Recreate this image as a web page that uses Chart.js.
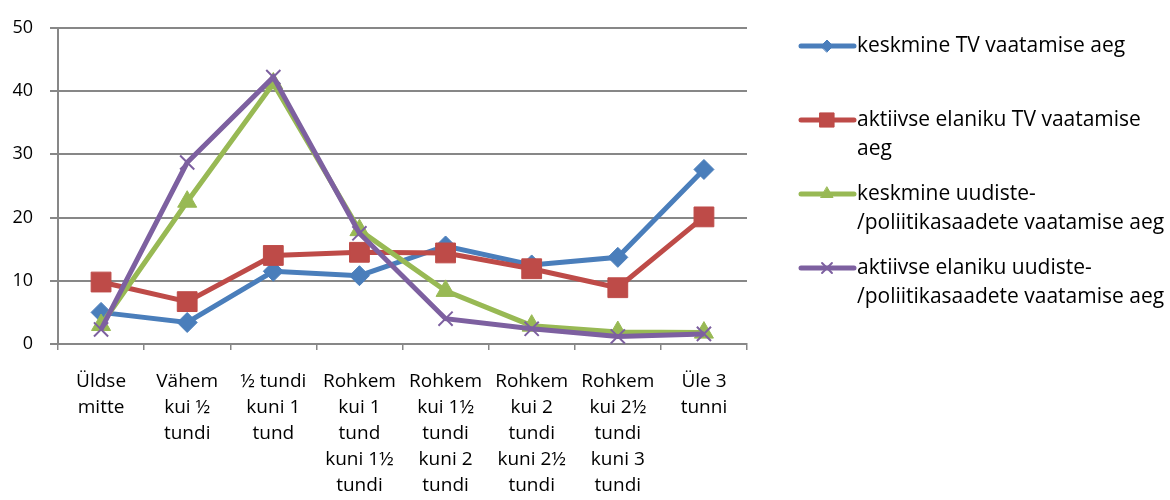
<!DOCTYPE html>
<html>
<head>
<meta charset="utf-8">
<script src="https://cdn.jsdelivr.net/npm/chart.js@4.4.1/dist/chart.umd.min.js"></script>
<style>
  html, body { margin: 0; padding: 0; background: #fff; }
  #wrap { width: 1170px; height: 500px; }
</style>
</head>
<body>
<div id="wrap"><canvas id="tvChart" width="1170" height="500"></canvas></div>
<script>
const categories = [
  ['Üldse', 'mitte'],
  ['Vähem', 'kui ½', 'tundi'],
  ['½ tundi', 'kuni 1', 'tund'],
  ['Rohkem', 'kui 1', 'tund', 'kuni 1½', 'tundi'],
  ['Rohkem', 'kui 1½', 'tundi', 'kuni 2', 'tundi'],
  ['Rohkem', 'kui 2', 'tundi', 'kuni 2½', 'tundi'],
  ['Rohkem', 'kui 2½', 'tundi', 'kuni 3', 'tundi'],
  ['Üle 3', 'tunni']
];
const seriesNames = [
  'keskmine TV vaatamise aeg',
  'aktiivse elaniku TV vaatamise aeg',
  'keskmine uudiste-/poliitikasaadete vaatamise aeg',
  'aktiivse elaniku uudiste-/poliitikasaadete vaatamise aeg'
];
const avgTv = [5.0, 3.4, 11.5, 10.8, 15.5, 12.5, 13.7, 27.6];
const activeTv = [9.8, 6.7, 14.0, 14.5, 14.4, 11.9, 8.9, 20.1];
const avgNews = [3.0, 22.5, 41.2, 18.0, 8.4, 2.9, 1.9, 1.8];
const activeNews = [2.3, 28.7, 42.2, 17.5, 4.0, 2.4, 1.2, 1.6];

const FONT = 'Open Sans';
const gridColor = '#878787';

const styles = [
  { color: '#4a7ebb', point: 'rectRot', r: 10, lr: 6, bw: 1 },
  { color: '#be4b48', point: 'rect', r: 14, lr: 10, bw: 1 },
  { color: '#98b954', point: 'triangle', r: 11, lr: 7, bw: 1 },
  { color: '#7d60a0', point: 'crossRot', r: 10, lr: 7, bw: 2 }
];
const values = [avgTv, activeTv, avgNews, activeNews];

// legend drawn on the canvas so the long names wrap like the original
const sideLegend = {
  id: 'sideLegend',
  afterDraw(chart) {
    const ctx = chart.ctx;
    ctx.save();
    ctx.font = '21px "' + FONT + '"';
    ctx.textBaseline = 'middle';
    const maxW = 314;
    let y = 46;
    chart.data.datasets.forEach((ds, i) => {
      const st = styles[i];
      ctx.strokeStyle = st.color;
      ctx.lineWidth = 5;
      ctx.lineCap = 'round';
      ctx.beginPath();
      ctx.moveTo(801, y);
      ctx.lineTo(854, y);
      ctx.stroke();
      ctx.fillStyle = st.color;
      ctx.lineWidth = st.bw;
      Chart.helpers.drawPoint(ctx, { pointStyle: st.point, radius: st.lr, rotation: 0, borderWidth: st.bw }, 827, y);
      // wrap words (break after hyphen too)
      const words = ds.label.replace(/-\//g, '- /').split(' ');
      const lines = [];
      let cur = '';
      words.forEach(w => {
        const sep = cur === '' || cur.endsWith('-') ? '' : ' ';
        const test = cur + sep + w;
        if (cur !== '' && ctx.measureText(test).width > maxW) {
          lines.push(cur);
          cur = w;
        } else {
          cur = test;
        }
      });
      lines.push(cur);
      ctx.fillStyle = '#000';
      lines.forEach((ln, k) => ctx.fillText(ln, 857, y + k * 29));
      y += 74;
    });
    ctx.restore();
  }
};

new Chart(document.getElementById('tvChart'), {
  type: 'line',
  data: {
    labels: categories,
    datasets: values.map((v, i) => ({
      label: seriesNames[i],
      data: v,
      borderColor: styles[i].color,
      backgroundColor: styles[i].color,
      borderWidth: 5,
      pointStyle: styles[i].point,
      pointRadius: styles[i].r,
      pointBorderWidth: styles[i].bw,
      pointBorderColor: styles[i].color,
      pointBackgroundColor: styles[i].color,
      tension: 0,
      order: 4 - i
    }))
  },
  options: {
    responsive: false,
    animation: false,
    layout: { padding: { top: 24, right: 423, left: 0, bottom: 0 } },
    plugins: {
      legend: { display: false },
      tooltip: { enabled: false }
    },
    scales: {
      x: {
        offset: true,
        grid: { offset: true, drawOnChartArea: false, color: gridColor, lineWidth: 1.5, tickLength: 6 },
        border: { color: gridColor, width: 2 },
        ticks: { color: '#000', font: { family: FONT, size: 19, lineHeight: 1.38 }, maxRotation: 0, autoSkip: false, padding: 18 },
        afterFit: s => { s.height = 156; }
      },
      y: {
        min: 0,
        max: 50,
        ticks: { stepSize: 10, color: '#000', font: { family: FONT, size: 18 }, padding: 17 },
        grid: { color: gridColor, lineWidth: 2, tickLength: 8 },
        border: { color: gridColor, width: 2 },
        afterFit: s => { s.width = 58; }
      }
    }
  },
  plugins: [sideLegend]
});
</script>
</body>
</html>
